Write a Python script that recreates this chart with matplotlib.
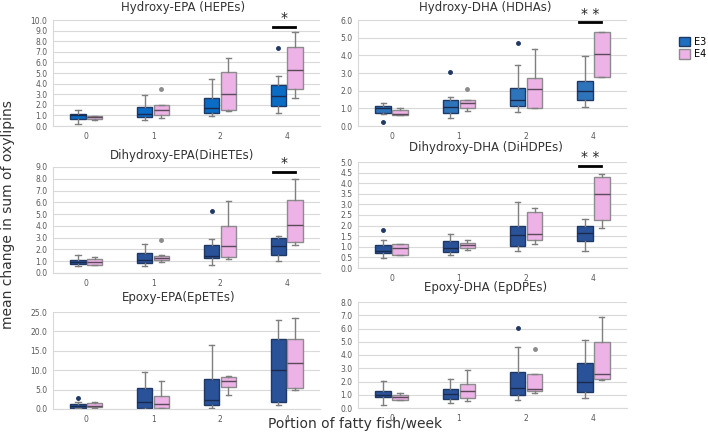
import numpy as np
import matplotlib
matplotlib.use("Agg")
import matplotlib.pyplot as plt
from matplotlib.patches import Patch

# categories (portions of fatty fish / week)
cats = ['0', '1', '2', '4']

# box stats per category: [whisker low, q1, median, q3, whisker high]
hepe_e3 = [[0.22, 0.7, 1.0, 1.1, 1.55], [0.55, 0.85, 1.15, 1.8, 2.9],
           [0.9, 1.2, 1.7, 2.6, 4.4], [1.25, 1.9, 2.8, 3.9, 4.75]]
hepe_e4 = [[0.55, 0.65, 0.82, 0.9, 0.95], [0.8, 1.05, 1.55, 1.95, 2.0],
           [1.4, 1.5, 3.0, 5.1, 6.4], [2.65, 3.5, 5.3, 7.5, 8.9]]
hepe_e3_out = [[], [], [], [7.35]]
hepe_e4_out = [[], [3.5], [], []]

hdha_e3 = [[0.68, 0.72, 1.0, 1.12, 1.3], [0.46, 0.74, 1.05, 1.46, 1.62],
           [0.8, 1.14, 1.47, 2.15, 3.48], [1.08, 1.5, 2.0, 2.55, 3.98]]
hdha_e4 = [[0.62, 0.64, 0.7, 0.9, 1.0], [0.85, 1.03, 1.3, 1.46, 1.46],
           [1.0, 1.01, 2.08, 2.74, 4.37], [2.8, 2.8, 4.08, 5.32, 5.32]]
hdha_e3_out = [[0.22], [3.08], [4.72], []]
hdha_e4_out = [[], [2.08], [], []]

dihete_e3 = [[0.62, 0.8, 0.96, 1.1, 1.5], [0.6, 0.84, 1.1, 1.69, 2.45],
             [0.7, 1.27, 1.42, 2.39, 2.9], [0.98, 1.55, 2.3, 2.98, 3.12]]
dihete_e4 = [[0.65, 0.7, 0.95, 1.21, 1.32], [0.93, 1.1, 1.29, 1.43, 1.5],
             [1.21, 1.35, 2.31, 3.97, 6.13], [2.39, 2.62, 4.05, 6.16, 7.96]]
dihete_e3_out = [[], [], [5.23], []]
dihete_e4_out = [[], [2.81], [], []]

dihdpe_e3 = [[0.49, 0.72, 0.78, 1.1, 1.3], [0.6, 0.77, 0.96, 1.27, 1.62],
             [0.79, 1.05, 1.56, 1.97, 3.13], [0.79, 1.26, 1.64, 2.0, 2.33]]
dihdpe_e4 = [[0.63, 0.63, 0.93, 1.13, 1.15], [0.87, 0.94, 1.1, 1.16, 1.32],
             [1.12, 1.3, 1.62, 2.66, 2.83], [1.9, 2.26, 3.51, 4.3, 4.45]]
dihdpe_e3_out = [[1.78], [], [], []]
dihdpe_e4_out = [[], [], [], []]

epete_e3 = [[0.2, 0.35, 0.78, 1.3, 1.9], [0.1, 0.17, 1.72, 5.34, 9.48],
            [0.2, 0.95, 2.24, 7.67, 16.4], [0.95, 1.9, 10.0, 18.0, 22.9]]
epete_e4 = [[0.3, 0.5, 0.7, 1.6, 1.8], [0.2, 0.26, 1.2, 3.36, 7.33],
            [3.53, 5.69, 7.24, 8.36, 8.5], [5.0, 5.34, 11.8, 18.1, 23.5]]
epete_e3_out = [[2.76], [], [], []]
epete_e4_out = [[], [], [], []]

epdpe_e3 = [[0.25, 0.81, 0.96, 1.29, 2.02], [0.4, 0.71, 1.06, 1.41, 2.17],
            [0.6, 0.96, 1.49, 2.7, 4.6], [0.73, 1.19, 1.94, 3.41, 5.13]]
epdpe_e4 = [[0.6, 0.6, 0.81, 0.96, 1.11], [0.56, 0.78, 1.26, 1.79, 2.85],
            [1.1, 1.26, 1.44, 2.55, 2.55], [2.12, 2.2, 2.6, 4.97, 6.84]]
epdpe_e3_out = [[], [], [6.01], []]
epdpe_e4_out = [[], [], [4.47], []]

# panel layout in pixels: left, top, right, bottom
panels = [
    ('Hydroxy-EPA (HEPEs)', hepe_e3, hepe_e4, hepe_e3_out, hepe_e4_out,
     10, 1.0, '*', 9.35, (53, 20, 320, 126), '#0A6CC4', (183, 8)),
    ('Hydroxy-DHA (HDHAs)', hdha_e3, hdha_e4, hdha_e3_out, hdha_e4_out,
     6, 1.0, '* *', 5.88, (358, 20, 627, 126), '#2E74BA', (485, 7)),
    ('Dihydroxy-EPA(DiHETEs)', dihete_e3, dihete_e4, dihete_e3_out, dihete_e4_out,
     9, 1.0, '*', 8.58, (53, 167, 320, 273), '#2A5299', (182, 155)),
    ('Dihydroxy-DHA (DiHDPEs)', dihdpe_e3, dihdpe_e4, dihdpe_e3_out, dihdpe_e4_out,
     5, 0.5, '* *', 4.83, (358, 162, 627, 268), '#2A5299', (486, 148)),
    ('Epoxy-EPA(EpETEs)', epete_e3, epete_e4, epete_e3_out, epete_e4_out,
     25, 5.0, None, None, (53, 312, 320, 409), '#2A5299', (179, 298)),
    ('Epoxy-DHA (EpDPEs)', epdpe_e3, epdpe_e4, epdpe_e3_out, epdpe_e4_out,
     8, 1.0, None, None, (358, 302, 627, 408), '#2A5299', (486, 288)),
]

W, H = 708, 432
fig = plt.figure(figsize=(W / 100, H / 100), dpi=100)
pink = '#EDB2E6'
grid_c = '#D9D9D9'
txt_c = '#595959'


def stats(rows, outs):
    res = []
    for r, o in zip(rows, outs):
        res.append(dict(whislo=r[0], q1=r[1], med=r[2], q3=r[3], whishi=r[4], fliers=o))
    return res


x = np.arange(len(cats))
for (title, e3, e4, e3o, e4o, ymax, step, sig, sig_y, box, blue, tpos) in panels:
    l, t, r, b = box
    ax = fig.add_axes([l / W, 1 - b / H, (r - l) / W, (b - t) / H])
    ax.set_xlim(-0.5, len(cats) - 0.5)
    ax.set_ylim(0, ymax)
    ticks = np.arange(0, ymax + step / 2, step)
    ax.set_yticks(ticks)
    ax.set_yticklabels(['%.1f' % v for v in ticks], fontsize=5.5, color=txt_c)
    ax.set_xticks(x)
    ax.set_xticklabels(cats, fontsize=5.5, color=txt_c)
    ax.tick_params(length=0, pad=4)
    ax.grid(axis='y', color=grid_c, lw=0.8)
    ax.set_axisbelow(True)
    for s in ['top', 'right']:
        ax.spines[s].set_visible(False)
    for s in ['left', 'bottom']:
        ax.spines[s].set_color(grid_c)
        ax.spines[s].set_linewidth(0.8)

    for data, outs, off, fc, ec, mc in [(e3, e3o, -0.125, blue, '#1F3864', '#1A2A4F'),
                                       (e4, e4o, 0.125, pink, '#8C8C8C', '#5A4A5A')]:
        ax.bxp(stats(data, outs), positions=x + off, widths=0.23, patch_artist=True,
               boxprops=dict(facecolor=fc, edgecolor=ec, lw=1.0),
               medianprops=dict(color=mc, lw=1.0),
               whiskerprops=dict(color='#7F7F7F', lw=1.0),
               capprops=dict(color='#7F7F7F', lw=1.0),
               flierprops=dict(marker='o', markersize=2.5, markerfacecolor=ec,
                               markeredgecolor=ec),
               capwidths=0.08, manage_ticks=False)

    if sig:
        ax.plot([3 - 0.21, 3 + 0.12], [sig_y, sig_y], color='black', lw=2, clip_on=False)
        ax.text(3 - 0.045, sig_y + ymax * 0.015, sig, ha='center', va='bottom',
                fontsize=10, color='#222222', clip_on=False)

    fig.text(tpos[0] / W, 1 - tpos[1] / H, title, ha='center', va='center',
             fontsize=8.5, color='#333333')

fig.text(8 / W, 1 - 215 / H, 'mean change in sum of oxylipins', rotation=90,
         ha='center', va='center', fontsize=10, color='#333333')
fig.text(355 / W, 1 - 424 / H, 'Portion of fatty fish/week', ha='center',
         va='center', fontsize=10, color='#333333')

handles = [Patch(facecolor='#1F6FC0', edgecolor='#1F3864', label='E3'),
           Patch(facecolor=pink, edgecolor='#8C8C8C', label='E4')]
fig.legend(handles=handles, loc='upper left', bbox_to_anchor=(675 / W, 1 - 33 / H),
           frameon=False, fontsize=7, handlelength=1.1, handleheight=1.1,
           handletextpad=0.5, labelspacing=0.25, borderaxespad=0)

fig.savefig('out.png', dpi=100)
